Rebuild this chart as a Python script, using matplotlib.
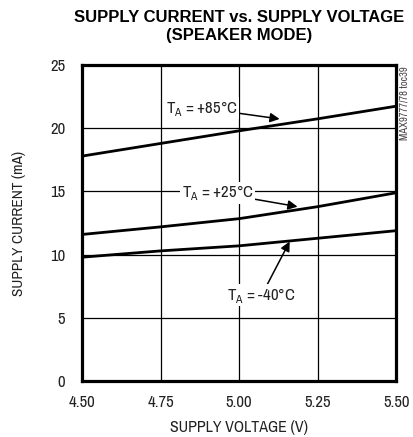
import matplotlib
matplotlib.use('Agg')
import matplotlib.pyplot as plt
from matplotlib import font_manager

voltage = [4.50, 4.75, 5.00, 5.25, 5.50]
current_85c = [17.8, 18.8, 19.8, 20.75, 21.75]
current_25c = [11.6, 12.2, 12.85, 13.8, 14.9]
current_m40c = [9.8, 10.3, 10.7, 11.3, 11.9]

x_ticks = [4.50, 4.75, 5.00, 5.25, 5.50]
x_ticklabels = ['4.50', '4.75', '5.00', '5.25', '5.50']
y_ticks = [0, 5, 10, 15, 20, 25]

# narrow face like the Helvetica Narrow of the original
faces = [f for f in font_manager.fontManager.ttflist
         if 'Narrow' in f.name or 'Narrow' in f.fname]
regular = [f for f in faces if f.weight in (400, 'normal', 'regular') and f.style == 'normal']
family = regular[0].name if regular else (faces[0].name if faces else 'DejaVu Sans')

plt.rcParams['font.family'] = [family, 'DejaVu Sans']
plt.rcParams['mathtext.fontset'] = 'custom'
plt.rcParams['mathtext.rm'] = family

fig = plt.figure(figsize=(4.14, 4.37), dpi=100)
ax = fig.add_axes([0.198, 0.128, 0.759, 0.723])

for series in (current_85c, current_25c, current_m40c):
    ax.plot(voltage, series, color='black', lw=2.0, zorder=3)

ax.set_xlim(4.5, 5.5)
ax.set_ylim(0, 25)
ax.set_xticks(x_ticks)
ax.set_xticklabels(x_ticklabels)
ax.set_yticks(y_ticks)
ax.grid(True, color='black', lw=0.9)
ax.tick_params(length=0, labelsize=12, colors='#222222')
ax.tick_params(axis='y', pad=12)
ax.tick_params(axis='x', pad=10)
for s in ax.spines.values():
    s.set_linewidth(2.3)
    s.set_zorder(4)

ax.set_xlabel('SUPPLY VOLTAGE (V)', fontsize=11.5, color='#222222', labelpad=7)
ax.set_ylabel('SUPPLY CURRENT (mA)', fontsize=11, color='#222222', labelpad=17)

fig.text(0.578, 0.978, 'SUPPLY CURRENT vs. SUPPLY VOLTAGE\n(SPEAKER MODE)',
         ha='center', va='top', family=['Liberation Sans', 'DejaVu Sans'],
         fontweight='bold', fontsize=12, linespacing=1.25)

fig.text(0.976, 0.764, 'MAX9777/78 toc39', rotation=90, ha='center', va='center',
         fontsize=7.7, color='#444444')

box = dict(facecolor='white', edgecolor='none', pad=1)
arrow = dict(arrowstyle='-|>', color='black', lw=1.1, mutation_scale=14, shrinkA=0, shrinkB=0)
ax.annotate(r'T$_\mathrm{A}$ = +85°C', xy=(5.129, 20.74), xytext=(4.881, 21.6),
            ha='center', va='center', fontsize=12, color='#222222', bbox=box,
            arrowprops=arrow, zorder=5)
ax.annotate(r'T$_\mathrm{A}$ = +25°C', xy=(5.186, 13.8), xytext=(4.932, 14.9),
            ha='center', va='center', fontsize=12, color='#222222', bbox=box,
            arrowprops=arrow, zorder=5)
ax.annotate(r'T$_\mathrm{A}$ = -40°C', xy=(5.161, 11.04), xytext=(5.072, 6.8),
            ha='center', va='center', fontsize=12, color='#222222', bbox=box,
            arrowprops=arrow, zorder=5)

fig.savefig('out.png', dpi=100)
